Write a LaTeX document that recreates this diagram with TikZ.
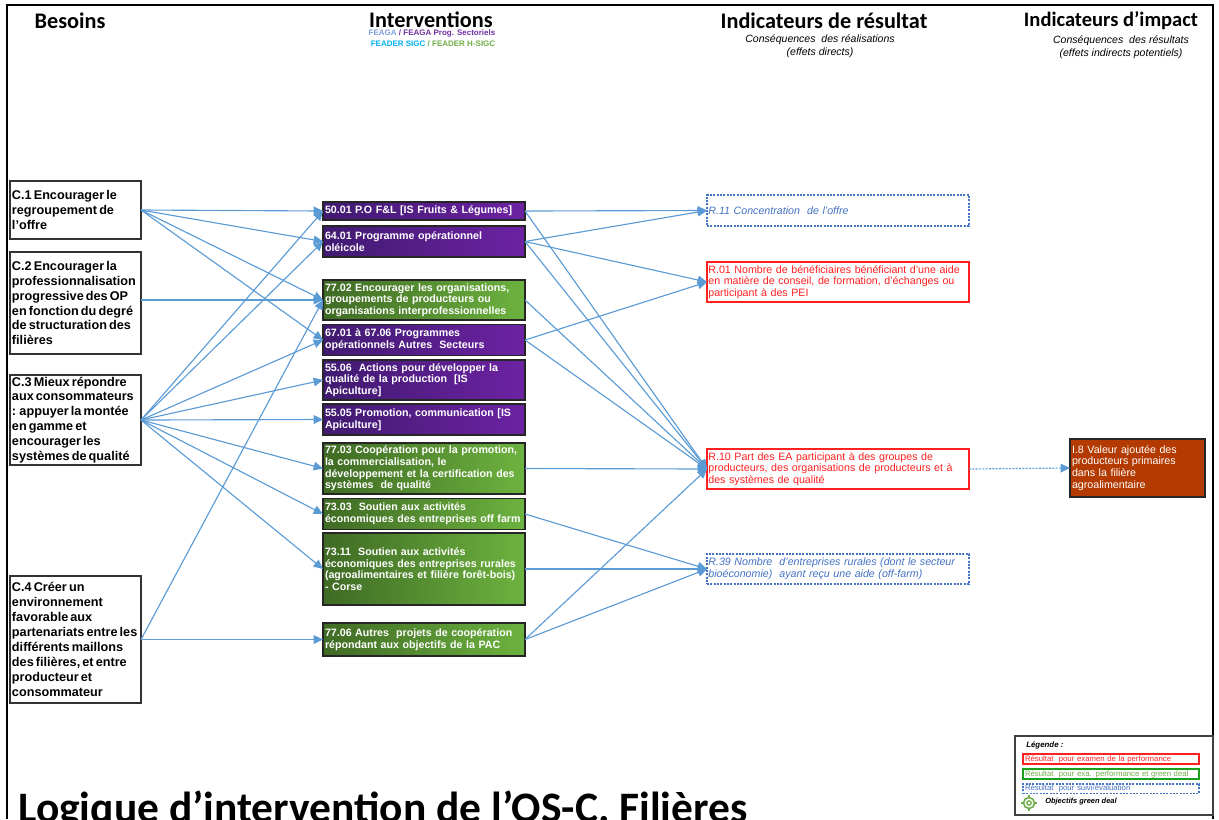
\documentclass[tikz,border=0pt]{standalone}
\usepackage{fontspec}
\setmainfont{Liberation Sans}
\newfontfamily\headfont{Carlito}
\newfontfamily\needfont[WordSpace=0.6]{Liberation Sans}
\usetikzlibrary{arrows.meta}
\usetikzlibrary{math}
\definecolor{linkblue}{HTML}{5b9bd5}
\definecolor{purpledark}{HTML}{401a70}
\definecolor{purplelight}{HTML}{6d22a3}
\definecolor{greendark}{HTML}{3f6a24}
\definecolor{greenlight}{HTML}{6db33f}
\definecolor{resultblue}{HTML}{4472c4}
\definecolor{resultred}{HTML}{ff2020}
\definecolor{resultgreen}{HTML}{1aa01a}
\definecolor{legendgreen}{HTML}{70ad47}
\definecolor{impactbrown}{HTML}{b33a00}
\definecolor{feagablue}{HTML}{7f9fdf}
\definecolor{feagapurple}{HTML}{7030a0}
\definecolor{feadercyan}{HTML}{00b0f0}
\tikzset{
    link/.style={linkblue, line width=0.85pt, -{Triangle[length=7pt,width=6.5pt]}},
    cell/.style={anchor=north west, align=left, outer sep=0pt, inner xsep=1.5pt, inner ysep=0pt},
    needbox/.style={cell, align=flush left, draw=black!80, line width=0.8pt, text width=95.25pt, minimum width=98.25pt,
        font=\needfont\bfseries\fontsize{9.5}{11.2}\selectfont},
    actionbox/.style={cell, draw=black!85, line width=1pt, text=white, text width=148.5pt, minimum width=151.5pt,
        font=\bfseries\fontsize{8}{8.8}\selectfont},
    actionpurple/.style={actionbox, left color=purpledark, right color=purplelight},
    actiongreen/.style={actionbox, left color=greendark, right color=greenlight},
    resultbox/.style={cell, line width=0.9pt, fill=white, inner xsep=1pt, text width=194.5pt, minimum width=196.5pt,
        font=\fontsize{8}{8.8}\selectfont},
    resultplain/.style={resultbox, draw=resultred, text=resultred},
    resultfollow/.style={resultbox, draw=resultblue, text=resultblue, dash pattern=on 1.5pt off 1pt, font=\itshape\fontsize{8}{8.8}\selectfont},
    impactbox/.style={cell, draw=black!85, line width=1pt, fill=impactbrown, text=white, text width=98.25pt, minimum width=101.25pt,
        font=\fontsize{8}{8.8}\selectfont},
    headtitle/.style={font=\headfont\bfseries\fontsize{16.7}{18}\selectfont, inner sep=0pt},
    subtitle/.style={font=\itshape\fontsize{7.9}{9.8}\selectfont, align=center, inner sep=0pt},
    legendbar/.style={cell, line width=0.8pt, text width=129pt, minimum width=132pt,
        font=\fontsize{5.85}{6}\selectfont},
}

\begin{document}
\begin{tikzpicture}[x=0.75pt,y=-0.75pt]

% Position settings
\tikzmath{
    % Left edges of the columns
    \xneed = 10;
    \xaction = 323;
    \xresult = 707;
    \ximpact = 1070;
    \xlegend = 1023;
}

\useasboundingbox (0,0) rectangle (1219,819);

% Draws outer frame
\draw[black, line width=2.2pt] (7,819) -- (7,5) -- (1213,5) -- (1213,819);

% Draws column heads
\node[headtitle] (headneed) at (70,21) {Besoins};
\node[headtitle] (headaction) at (431,20) {Interventions};
\node[headtitle] (headresult) at (824,21) {Indicateurs de résultat};
\node[headtitle, font=\headfont\bfseries\fontsize{15.4}{18}\selectfont] (headimpact) at (1111,21) {Indicateurs d’impact};
\node[inner sep=0pt, font=\bfseries\fontsize{6}{6.5}\selectfont] (keyfeaga) at (432,33.5)
    {\textcolor{feagablue}{FEAGA} \textcolor{feagapurple}{/ FEAGA Prog. Sectoriels}};
\node[inner sep=0pt, font=\bfseries\fontsize{6}{6.5}\selectfont] (keyfeader) at (433,43.5)
    {\textcolor{feadercyan}{FEADER SIGC} \textcolor{legendgreen}{/ FEADER H-SIGC}};
\node[subtitle] (subresult) at (820,46) {Conséquences\ \ des réalisations\\(effets directs)};
\node[subtitle] (subimpact) at (1121,47) {Conséquences\ \ des résultats\\(effets indirects potentiels)};

% Draws needs
\node[needbox, minimum height=43.5pt] (c1) at (\xneed,181) {C.1 Encourager le\\regroupement de\\l’offre};
\node[needbox, minimum height=76.5pt] (c2) at (\xneed,252) {C.2 Encourager la\\professionnalisation\\progressive des OP\\en fonction du degré\\de structuration des\\filières};
\node[needbox, minimum height=67.5pt] (c3) at (\xneed,375) {C.3 Mieux répondre\\aux consommateurs\\: appuyer la montée\\en gamme et\\encourager les\\systèmes de qualité};
\node[needbox, minimum height=95.25pt] (c4) at (\xneed,576) {C.4 Créer un\\environnement\\favorable aux\\partenariats entre les\\différents maillons\\des filières, et entre\\producteur et\\consommateur};

% Draws interventions
\node[actionpurple, minimum height=13.5pt] (a5001) at (\xaction,202) {50.01 P.O F\&L [IS Fruits \& Légumes]};
\node[actionpurple, minimum height=23.25pt] (a6401) at (\xaction,226) {64.01 Programme opérationnel\\oléicole};
\node[actiongreen, minimum height=30pt] (a7702) at (\xaction,280) {77.02 Encourager les organisations,\\groupements de producteurs ou\\organisations interprofessionnelles};
\node[actionpurple, minimum height=23.25pt] (a6701) at (\xaction,324.5) {67.01 à 67.06 Programmes\\opérationnels Autres\ \ Secteurs};
\node[actionpurple, minimum height=30pt] (a5506) at (\xaction,360) {55.06\ \ Actions pour développer la\\qualité de la production\ \ [IS\\Apiculture]};
\node[actionpurple, minimum height=23.25pt] (a5505) at (\xaction,404) {55.05 Promotion, communication [IS\\Apiculture]};
\node[actiongreen, minimum height=38.25pt] (a7703) at (\xaction,443) {77.03 Coopération pour la promotion,\\la commercialisation, le\\développement et la certification des\\systèmes\ \ de qualité};
\node[actiongreen, minimum height=23.25pt] (a7303) at (\xaction,498.5) {73.03\ \ Soutien aux activités\\économiques des entreprises off farm};
\node[actiongreen, minimum height=54pt] (a7311) at (\xaction,533) {73.11\ \ Soutien aux activités\\économiques des entreprises rurales\\(agroalimentaires et filière forêt-bois)\\- Corse};
\node[actiongreen, minimum height=24.75pt] (a7706) at (\xaction,623) {77.06 Autres\ \ projets de coopération\\répondant aux objectifs de la PAC};

% Draws result indicators
\node[resultfollow, minimum height=23.25pt] (r11) at (\xresult,195) {R.11 Concentration\ \ de l’offre};
\node[resultplain, minimum height=30pt] (r01) at (\xresult,262) {R.01 Nombre de bénéficiaires bénéficiant d’une aide\\en matière de conseil, de formation, d’échanges ou\\participant à des PEI};
\node[resultplain, minimum height=30pt] (r10) at (\xresult,449) {R.10 Part des EA participant à des groupes de\\producteurs, des organisations de producteurs et à\\des systèmes de qualité};
\node[resultfollow, minimum height=22.5pt] (r39) at (\xresult,554) {R.39 Nombre\ \ d’entreprises rurales (dont le secteur\\bioéconomie)\ \ ayant reçu une aide (off-farm)};

% Draws impact indicator
\node[impactbox, minimum height=43.5pt] (i8) at (\ximpact,439) {I.8 Valeur ajoutée des\\producteurs primaires\\dans la filière\\agroalimentaire};

% Draws links from needs to interventions
\draw[link] (c1.east) -- (a5001.west);
\draw[link] (c1.east) -- (a6401.west);
\draw[link] (c1.east) -- (a7702.west);
\draw[link] (c1.east) -- (a6701.west);
\draw[link] (c2.east |- a7702.west) -- (a7702.west);
\draw[link] (c3.east) -- (a5001.west);
\draw[link] (c3.east) -- (a6401.west);
\draw[link] (c3.east) -- (a6701.west);
\draw[link] (c3.east) -- (a5506.west);
\draw[link] (c3.east) -- (a5505.west);
\draw[link] (c3.east) -- (a7703.west);
\draw[link] (c3.east) -- (a7303.west);
\draw[link] (c3.east) -- (a7311.west);
\draw[link] (c4.east) -- (a7702.west);
\draw[link] (c4.east) -- (a7706.west);

% Draws links from interventions to results
\draw[link] (a5001.east) -- (r11.west);
\draw[link] (a5001.east) -- (r10.west);
\draw[link] (a6401.east) -- (r11.west);
\draw[link] (a6401.east) -- (r01.west);
\draw[link] (a6401.east) -- (r10.west);
\draw[link] (a7702.east) -- (r10.west);
\draw[link] (a6701.east) -- (r01.west);
\draw[link] (a6701.east) -- (r10.west);
\draw[link] (a7703.east) -- (r10.west);
\draw[link] (a7303.east) -- (r39.west);
\draw[link] (a7311.east) -- (r39.west);
\draw[link] (a7706.east) -- (r10.west);
\draw[link] (a7706.east) -- (r39.west);

% Draws result to impact link
\draw[link, dash pattern=on 1.5pt off 1pt] (r10.east) -- (i8.west);

% Draws legend
\node[cell, draw=black!75, line width=0.8pt, minimum width=148.5pt, minimum height=59.25pt] (legendbox) at (1015,736) {};
\node[anchor=west, inner sep=0pt, font=\bfseries\itshape\fontsize{5.9}{6.5}\selectfont] (legendtitle) at (1026,745) {Légende :};
\node[legendbar, draw=resultred, text=resultred, minimum height=7.5pt] (legendred) at (\xlegend,754) {Résultat\ \ pour examen de la performance};
\node[legendbar, draw=resultgreen, text=legendgreen, minimum height=7.5pt] (legendgreen) at (\xlegend,769) {Résultat\ \ pour exa. performance et green deal};
\node[legendbar, draw=resultblue, text=resultblue, dash pattern=on 1.5pt off 1pt, minimum height=7pt] (legendfollow) at (\xlegend,784) {Résultat\ \ pour suivi/évaluation};
\node[anchor=west, inner sep=0pt, font=\bfseries\itshape\fontsize{5.6}{6}\selectfont] (legendicon) at (1045,802) {Objectifs green deal};
\draw[legendgreen, line width=1.2pt] (1029,803) circle[radius=5.5];
\draw[legendgreen, line width=1pt] (1029,803) circle[radius=2.2];
\draw[legendgreen, line width=1pt] (1021,803) -- (1024,803);
\draw[legendgreen, line width=1pt] (1034,803) -- (1037,803);
\draw[legendgreen, line width=1pt] (1029,795) -- (1029,798);
\draw[legendgreen, line width=1pt] (1029,808) -- (1029,811);

% Draws page title
\node[anchor=base west, inner sep=0pt, font=\headfont\bfseries\fontsize{32.6}{36}\selectfont] (pagetitle) at (18,822.5) {Logique d’intervention de l’OS-C. Filières};

\end{tikzpicture}
\end{document}
